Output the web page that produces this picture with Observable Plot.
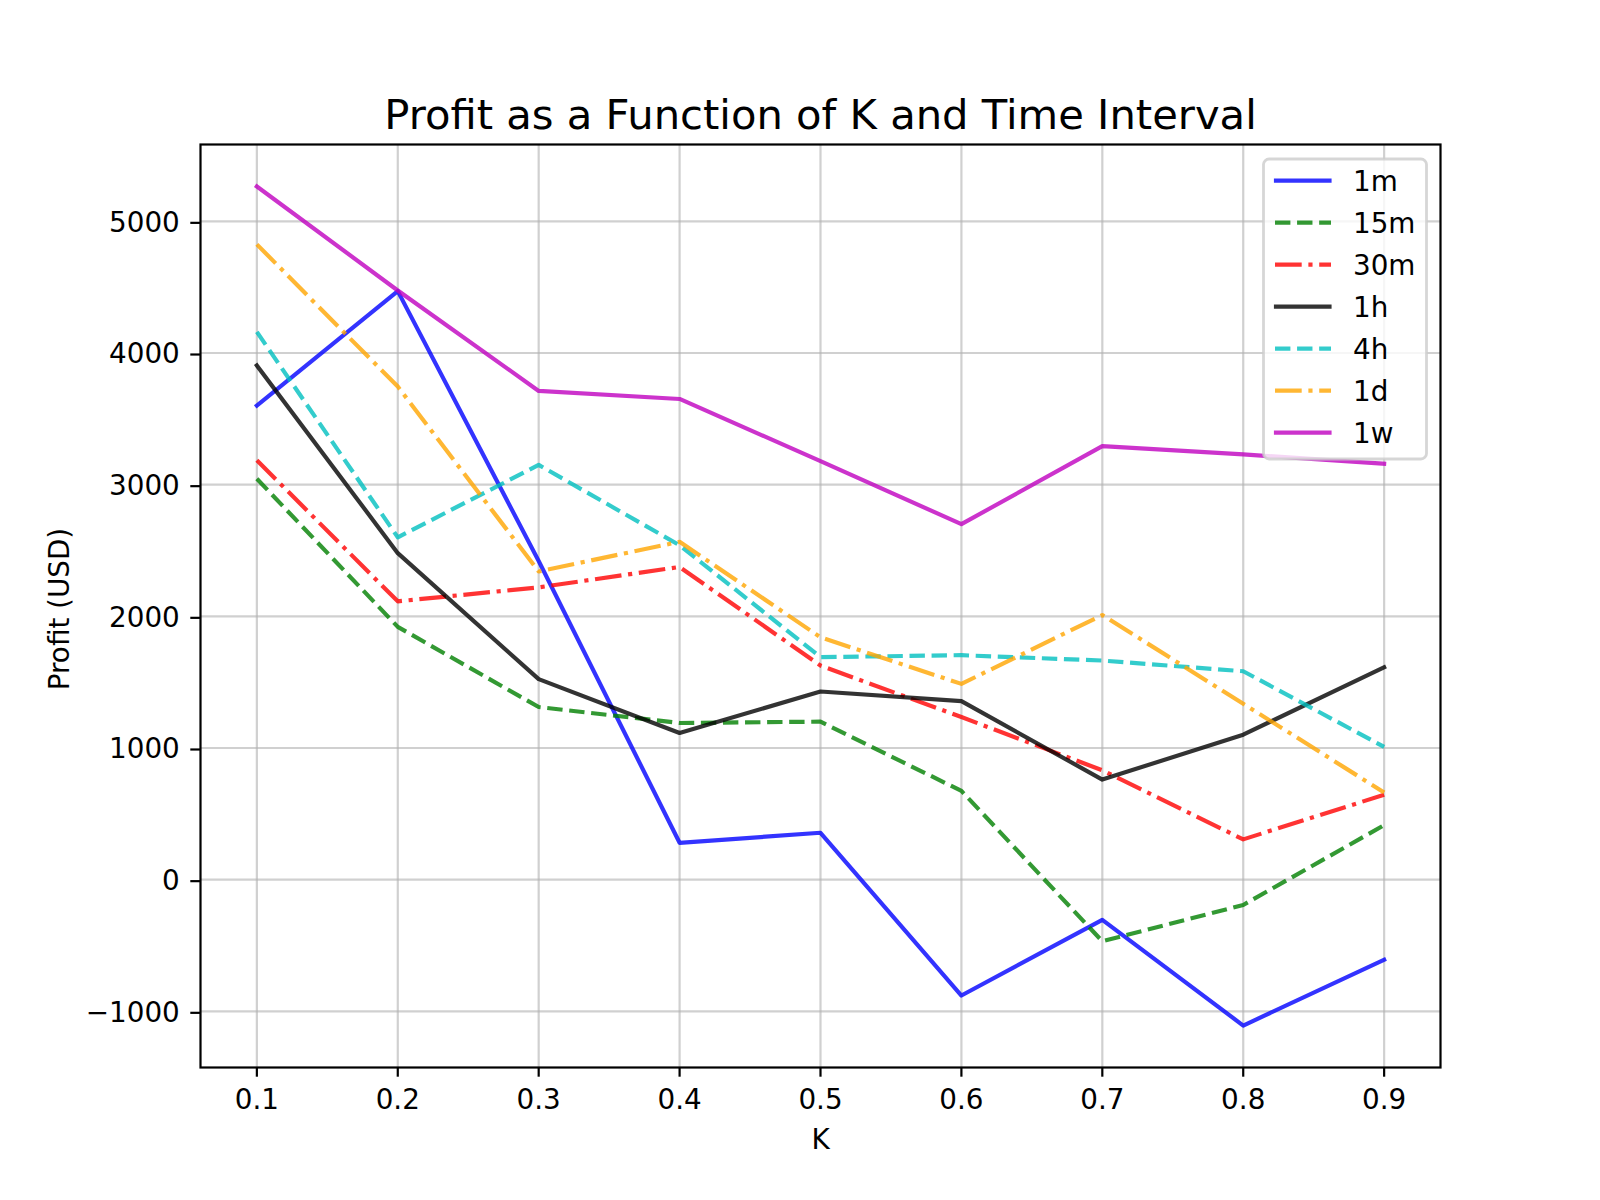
<!DOCTYPE html>
<html>
<head>
<meta charset="utf-8">
<script src="https://cdn.jsdelivr.net/npm/d3@7"></script>
<script src="https://cdn.jsdelivr.net/npm/@observablehq/plot@0.6"></script>
<style>
  html, body { margin: 0; padding: 0; background: white; }
  #chart { position: relative; width: 1600px; height: 1200px; }
</style>
</head>
<body>
<div id="chart"></div>
<script>
// ---- Data ----
const K = [0.1, 0.2, 0.3, 0.4, 0.5, 0.6, 0.7, 0.8, 0.9];
const intervals = ["1m", "15m", "30m", "1h", "4h", "1d", "1w"];
const profit_1m  = [3600, 4470, 2420, 280, 356, -880, -305, -1108, -608];
const profit_15m = [3045, 1920, 1311, 1190, 1200, 674, -468, -192, 414];
const profit_30m = [3185, 2114, 2220, 2375, 1626, 1235, 831, 306, 645];
const profit_1h  = [3905, 2480, 1523, 1114, 1429, 1356, 760, 1101, 1614];
const profit_4h  = [4160, 2600, 3150, 2540, 1690, 1705, 1664, 1583, 1008];
const profit_1d  = [4825, 3745, 2341, 2566, 1841, 1487, 2010, 1336, 662];
const profit_1w  = [5265, 4475, 3712, 3651, 3179, 2700, 3293, 3230, 3159];
const yTicks = [-1000, 0, 1000, 2000, 3000, 4000, 5000];
const xTicks = K;
const title = "Profit as a Function of K and Time Interval";
const xLabel = "K";
const yLabel = "Profit (USD)";

// ---- Styles ----
const DASHED = "15.4,6.67";
const DASHDOT = "26.7,6.67,4.17,6.67";
const styles = {
  "1m":  {color: "#0000ff", dash: null},
  "15m": {color: "#008000", dash: DASHED},
  "30m": {color: "#ff0000", dash: DASHDOT},
  "1h":  {color: "#000000", dash: null},
  "4h":  {color: "#00bfbf", dash: DASHED},
  "1d":  {color: "#ffa500", dash: DASHDOT},
  "1w":  {color: "#bf00bf", dash: null}
};
const valuesByInterval = {
  "1m": profit_1m, "15m": profit_15m, "30m": profit_30m, "1h": profit_1h,
  "4h": profit_4h, "1d": profit_1d, "1w": profit_1w
};

// matplotlib-like 5% auto margins
const allVals = intervals.flatMap(n => valuesByInterval[n]);
const yMin = d3.min(allVals), yMax = d3.max(allVals);
const yPad = (yMax - yMin) * 0.05;
const xMin = d3.min(K), xMax = d3.max(K);
const xPad = (xMax - xMin) * 0.05;

const LW = 4.17;
const FS = 27.8;

const lineMarks = intervals.map(name => {
  const s = styles[name];
  const rows = K.map((k, i) => ({k, v: valuesByInterval[name][i]}));
  return Plot.line(rows, {
    x: "k", y: "v",
    stroke: s.color, strokeOpacity: 0.8, strokeWidth: LW,
    strokeDasharray: s.dash || undefined,
    strokeLinecap: s.dash ? "butt" : "square",
    strokeLinejoin: "round"
  });
});

const plot = Plot.plot({
  width: 1600,
  height: 1200,
  marginLeft: 200,
  marginRight: 160,
  marginTop: 144,
  marginBottom: 133,
  style: {fontFamily: "DejaVu Sans", fontSize: FS + "px", color: "black", background: "white", overflow: "visible"},
  x: {domain: [xMin - xPad, xMax + xPad], label: null},
  y: {domain: [yMin - yPad, yMax + yPad], label: null},
  marks: [
    Plot.gridX(xTicks, {stroke: "#b0b0b0", strokeOpacity: 0.6, strokeWidth: 2.2}),
    Plot.gridY(yTicks, {stroke: "#b0b0b0", strokeOpacity: 0.6, strokeWidth: 2.2}),
    ...lineMarks,
    Plot.frame({stroke: "black", strokeWidth: 2.2}),
    Plot.axisX(xTicks, {tickSize: 9.7, tickPadding: 12.5, strokeWidth: 2.2, fontSize: FS, tickFormat: d3.format(".1f"), label: null}),
    Plot.axisY(yTicks, {tickSize: 9.7, tickPadding: 11, strokeWidth: 2.2, fontSize: FS, tickFormat: d3.format("d"), label: null, dy: 1.5}),
    Plot.text([title], {frameAnchor: "top", textAnchor: "middle", lineAnchor: "bottom", dy: -15.7, fontSize: 41.7, fill: "black"}),
    Plot.text([xLabel], {frameAnchor: "bottom", textAnchor: "middle", lineAnchor: "bottom", dy: 81, fontSize: FS, fill: "black"}),
    Plot.text([yLabel], {frameAnchor: "left", textAnchor: "middle", lineAnchor: "bottom", rotate: -90, dx: -132, dy: 3, fontSize: FS, fill: "black"})
  ]
});

// ---- Legend (upper right, matplotlib style) ----
const svg = d3.select(plot);
const lg = svg.append("g").attr("class", "legend").attr("text-anchor", "start");
const boxX = 1263.5, boxY = 159, boxW = 163, boxH = 300;
lg.append("rect")
  .attr("x", boxX).attr("y", boxY).attr("width", boxW).attr("height", boxH)
  .attr("rx", 5.6).attr("ry", 5.6)
  .attr("fill", "white").attr("fill-opacity", 0.8)
  .attr("stroke", "#cccccc").attr("stroke-opacity", 0.8).attr("stroke-width", 2.8);
intervals.forEach((name, i) => {
  const s = styles[name];
  const cy = 180.7 + 42 * i;
  lg.append("line")
    .attr("x1", s.dash ? 1275 : 1276).attr("x2", s.dash ? 1331 : 1329.5)
    .attr("y1", cy).attr("y2", cy)
    .attr("stroke", s.color).attr("stroke-opacity", 0.8).attr("stroke-width", LW)
    .attr("stroke-dasharray", s.dash)
    .attr("stroke-linecap", s.dash ? "butt" : "square");
  lg.append("text")
    .attr("x", 1353).attr("y", cy + 10.3)
    .attr("text-anchor", "start")
    .attr("font-family", "DejaVu Sans").attr("font-size", FS)
    .attr("fill", "black")
    .text(name);
});

document.getElementById("chart").appendChild(plot);
</script>
</body>
</html>
